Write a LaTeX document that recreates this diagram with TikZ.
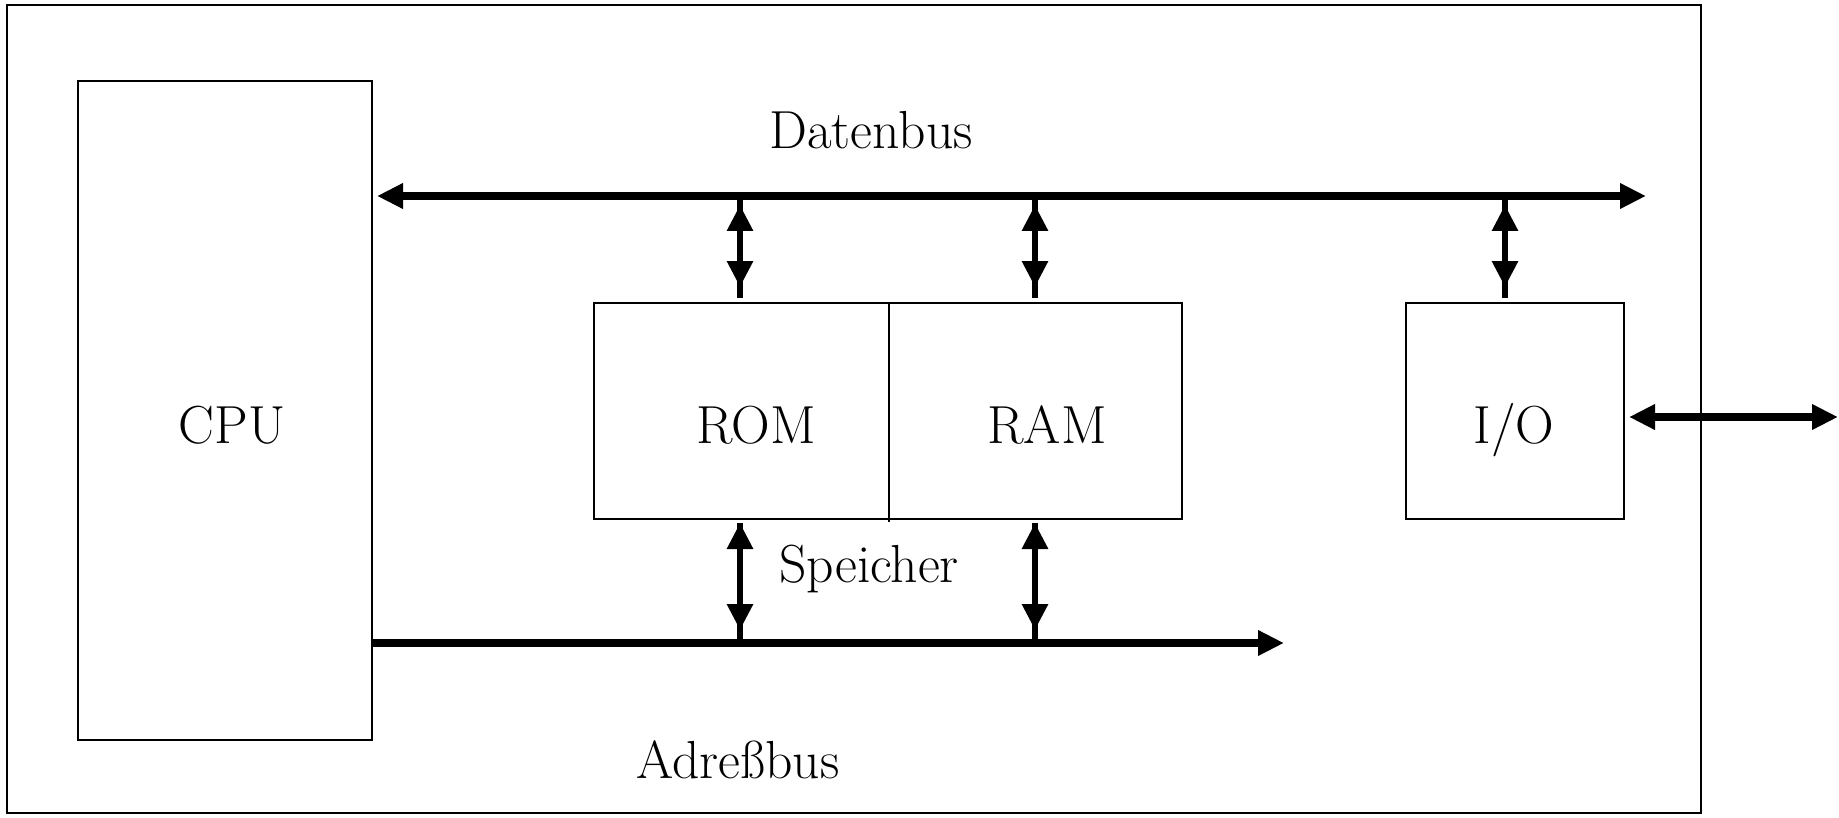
\documentclass[tikz,border=0pt]{standalone}
\usetikzlibrary{arrows.meta}
\begin{document}
\begin{tikzpicture}[x=0.02cm,y=-0.02cm,
  box/.style={draw,line width=1.1pt,inner sep=0pt,minimum width=0pt},
  lbl/.style={anchor=base,inner sep=0pt,font=\fontsize{30.5}{36}\selectfont},
  tip/.tip={Triangle[length=0.52cm,width=0.48cm]},
  vtip/.tip={Triangle[length=0.52cm,width=0.5cm]},
  bus/.style={line width=4pt,-tip},
  bbus/.style={line width=4pt,tip-tip},
  vline/.style={line width=3.4pt},
  varr/.style={line width=3.4pt,vtip-vtip}]
\useasboundingbox (0,0) rectangle (1839,818);
% outer frame
\draw[line width=1.2pt] (7,5) rectangle (1701,813);
% boxes
\draw[box] (78,81) rectangle (372,740);
\draw[box] (594,303) rectangle (1182,519);
\draw[line width=1.1pt] (889,303) -- (889,522);
\draw[box] (1406,303) rectangle (1624,519);
% labels
\node[lbl] (cpu) at (232,443) {CPU};
\node[lbl] (rom) at (756,443) {ROM};
\node[lbl] (ram) at (1047,443) {RAM};
\node[lbl] (io) at (1514,443) {I/O};
\node[lbl] (dbus) at (871,148) {Datenbus};
\node[lbl] (abus) at (738,778) {Adreßbus};
\node[lbl] (spei) at (869,582) {Speicher};
% coordinates
\coordinate (dL) at (377,196);
\coordinate (dR) at (1646,196);
\coordinate (aL) at (372,643);
\coordinate (aR) at (1284,643);
\coordinate (ioL) at (1629,417);
\coordinate (ioR) at (1838,417);
% buses
\draw[bbus] (dL) -- (dR);
\draw[bus] (aL) -- (aR);
\draw[bbus] (ioL) -- (ioR);
% vertical connectors
\foreach \x/\n in {740/a,1035/b,1505/c}{
  \coordinate (t\n) at (\x,196);
  \coordinate (b\n) at (\x,298);
  \draw[vline] (t\n) -- (b\n);
  \draw[varr] (\x,205) -- (\x,287);
}
\foreach \x/\n in {740/d,1035/e}{
  \coordinate (t\n) at (\x,523);
  \coordinate (b\n) at (\x,643);
  \draw[vline] (t\n) -- (b\n);
  \draw[varr] (\x,523) -- (\x,630);
}
\end{tikzpicture}
\end{document}
